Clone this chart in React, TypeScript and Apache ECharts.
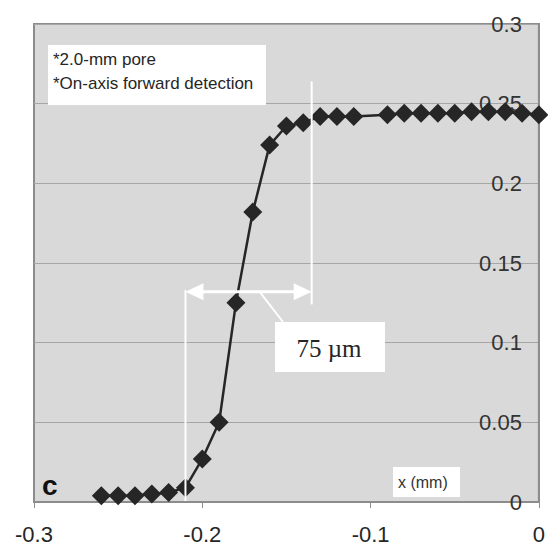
import React, { useEffect, useRef } from "react";
import * as echarts from "echarts";

// Detector position (mm) and measured signal
const positionsMm = [
  -0.26, -0.25, -0.24, -0.23, -0.22, -0.21, -0.2, -0.19, -0.18, -0.17, -0.16, -0.15, -0.14,
  -0.13, -0.12, -0.11, -0.09, -0.08, -0.07, -0.06, -0.05, -0.04, -0.03, -0.02, -0.01, 0,
];
const signal = [
  0.004, 0.004, 0.004, 0.005, 0.006, 0.009, 0.027, 0.05, 0.125, 0.182, 0.224, 0.236, 0.238,
  0.242, 0.242, 0.242, 0.243, 0.244, 0.244, 0.244, 0.244, 0.245, 0.245, 0.245, 0.244, 0.243,
];

const xTicks = [-0.3, -0.2, -0.1, 0];
const yTicks = [0, 0.05, 0.1, 0.15, 0.2, 0.25, 0.3];

const noteLines = ["*2.0-mm pore", "*On-axis forward detection"];
const panelLabel = "c";
const axisTitle = "x (mm)";

// Edge-width measurement: 75 µm span starting at x = -0.21 mm
const edgeStartMm = -0.21;
const edgeWidthUm = 75;
const edgeEndMm = edgeStartMm + edgeWidthUm / 1000;
const arrowLevel = 0.132;
const widthLabel = `${edgeWidthUm} µm`;

const SANS = '"Liberation Sans", Arial, sans-serif';
const SERIF = '"Liberation Serif", "Times New Roman", serif';
const INK = "#262626";
const AXIS = "#8c8c8c";

export default function App() {
  const ref = useRef<HTMLDivElement>(null);

  useEffect(() => {
    if (!ref.current) return;
    const chart = echarts.init(ref.current, undefined, { renderer: "svg" });

    chart.setOption({
      animation: false,
      backgroundColor: "#ffffff",
      grid: {
        left: 34,
        top: 24,
        right: 8,
        bottom: 44,
        show: true,
        backgroundColor: "#d9d9d9",
        borderColor: AXIS,
        borderWidth: 2,
      },
      xAxis: {
        type: "value",
        min: xTicks[0],
        max: xTicks[xTicks.length - 1],
        interval: 0.1,
        axisLine: { show: true, onZero: false, lineStyle: { color: AXIS, width: 2 } },
        axisTick: { show: true, length: 6, lineStyle: { color: AXIS, width: 1 } },
        splitLine: { show: false },
        axisLabel: {
          fontSize: 22,
          fontFamily: SANS,
          color: INK,
          margin: 21,
          showMinLabel: true,
          showMaxLabel: true,
        },
      },
      yAxis: {
        type: "value",
        position: "right",
        min: yTicks[0],
        max: yTicks[yTicks.length - 1],
        interval: 0.05,
        axisLine: { show: true, lineStyle: { color: AXIS, width: 2 } },
        axisTick: { show: false },
        splitLine: { show: true, lineStyle: { color: "#a6a6a6", width: 1 } },
        axisLabel: {
          inside: true,
          fontSize: 22,
          fontFamily: SANS,
          color: "#333333",
          margin: 17,
        },
      },
      series: [
        {
          type: "line",
          data: positionsMm.map((x, i) => [x, signal[i]]),
          clip: false,
          symbol: "diamond",
          symbolSize: 19,
          itemStyle: { color: INK },
          lineStyle: { color: INK, width: 2.5 },
          z: 3,
        },
      ],
    });

    const p = (x: number, y: number) =>
      chart.convertToPixel({ gridIndex: 0 }, [x, y]) as number[];

    const leftBottom = p(edgeStartMm, 0);
    const leftTop = p(edgeStartMm, 0.133);
    const rightBottom = p(edgeEndMm, 0.124);
    const rightTop = p(edgeEndMm, 0.264);
    const tipL = p(edgeStartMm, arrowLevel);
    const tipR = p(edgeEndMm, arrowLevel);
    const leaderStart = p(-0.166, arrowLevel);
    const head = 18;
    const half = 8.5;
    const white = { stroke: "#ffffff", lineWidth: 2 };

    chart.setOption({
      graphic: [
        // note box
        { type: "rect", shape: { x: 48, y: 45, width: 218, height: 60 }, style: { fill: "#ffffff" }, z: 10 },
        {
          type: "text",
          style: { text: noteLines[0], x: 53, y: 59, fontSize: 17, fontFamily: SANS, fill: INK, align: "left", verticalAlign: "middle", textAlign: "left", textVerticalAlign: "middle" },
          z: 11,
        },
        {
          type: "text",
          style: { text: noteLines[1], x: 53, y: 83, fontSize: 17, fontFamily: SANS, fill: INK, align: "left", verticalAlign: "middle", textAlign: "left", textVerticalAlign: "middle" },
          z: 11,
        },
        // guide lines
        { type: "line", shape: { x1: leftBottom[0], y1: leftBottom[1] - 1, x2: leftTop[0], y2: leftTop[1] }, style: white, z: 10 },
        { type: "line", shape: { x1: rightBottom[0], y1: rightBottom[1], x2: rightTop[0], y2: rightTop[1] }, style: white, z: 10 },
        // double arrow
        { type: "line", shape: { x1: tipL[0] + head - 2, y1: tipL[1], x2: tipR[0] - head + 2, y2: tipR[1] }, style: { stroke: "#ffffff", lineWidth: 3 }, z: 10 },
        {
          type: "polygon",
          shape: { points: [[tipL[0], tipL[1]], [tipL[0] + head, tipL[1] - half], [tipL[0] + head, tipL[1] + half]] },
          style: { fill: "#ffffff" },
          z: 10,
        },
        {
          type: "polygon",
          shape: { points: [[tipR[0], tipR[1]], [tipR[0] - head, tipR[1] - half], [tipR[0] - head, tipR[1] + half]] },
          style: { fill: "#ffffff" },
          z: 10,
        },
        // leader to the width label
        { type: "line", shape: { x1: leaderStart[0], y1: leaderStart[1], x2: 283, y2: 322 }, style: white, z: 10 },
        { type: "rect", shape: { x: 275, y: 322, width: 110, height: 50 }, style: { fill: "#ffffff" }, z: 10 },
        {
          type: "text",
          style: { text: widthLabel, x: 329, y: 348, fontSize: 25, fontFamily: SERIF, fill: INK, align: "center", verticalAlign: "middle", textAlign: "center", textVerticalAlign: "middle" },
          z: 11,
        },
        // axis title box
        { type: "rect", shape: { x: 393, y: 467, width: 67, height: 30 }, style: { fill: "#ffffff" }, z: 10 },
        {
          type: "text",
          style: { text: axisTitle, x: 398, y: 482, fontSize: 16, fontFamily: SANS, fill: "#333333", align: "left", verticalAlign: "middle", textAlign: "left", textVerticalAlign: "middle" },
          z: 11,
        },
        // panel letter
        {
          type: "text",
          style: { text: panelLabel, x: 42, y: 485, fontSize: 28, fontWeight: "bold", fontFamily: SANS, fill: "#111111", align: "left", verticalAlign: "middle", textAlign: "left", textVerticalAlign: "middle" },
          z: 11,
        },
      ],
    });

    return () => chart.dispose();
  }, []);

  return <div ref={ref} style={{ width: 548, height: 546, position: "absolute", left: 0, top: 0 }} />;
}
